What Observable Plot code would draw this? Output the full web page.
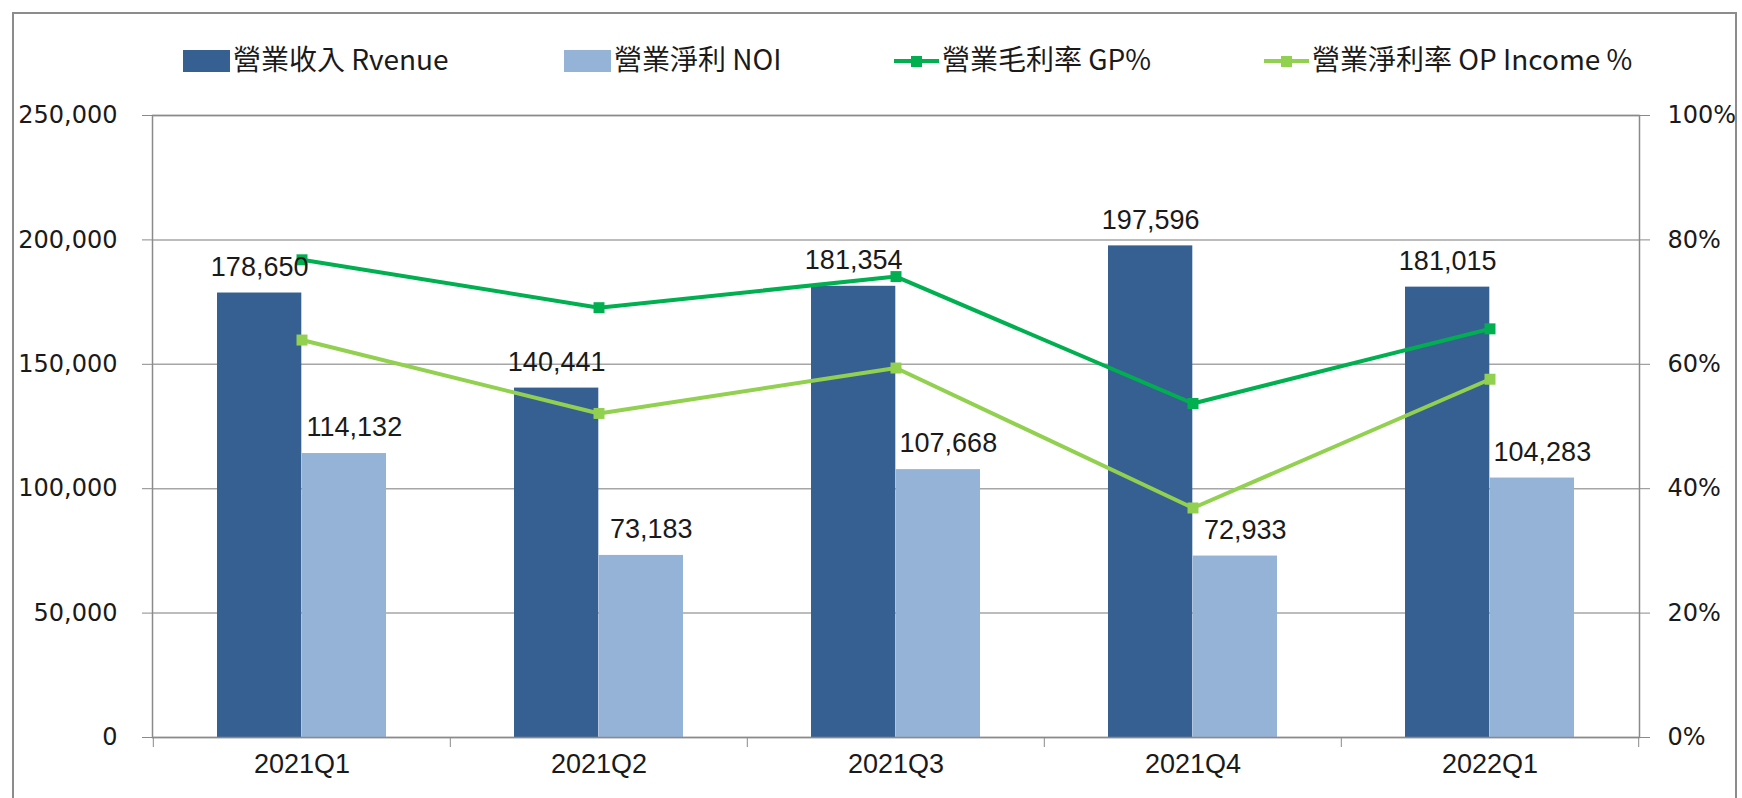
<!DOCTYPE html>
<html><head><meta charset="utf-8">
<script src="https://cdn.jsdelivr.net/npm/d3@7"></script>
<script src="https://cdn.jsdelivr.net/npm/@observablehq/plot@0.6"></script>
<style>
html,body{margin:0;padding:0;background:#fff;}
body{width:1742px;height:798px;overflow:hidden;position:relative;}
#frame{position:absolute;left:12px;top:12px;width:1725px;height:800px;border:2px solid #8c8c8c;box-sizing:border-box;}
#chart{position:absolute;left:0;top:0;}
.lg{position:absolute;top:0;left:0;font-family:"Noto Sans CJK TC","Noto Sans CJK SC",sans-serif;font-size:28px;color:#1a1a1a;line-height:1;white-space:nowrap;}
.sw{position:absolute;width:47px;height:22px;top:50px;}
.ln{position:absolute;width:45px;height:4px;top:59px;}
.mk{position:absolute;width:11px;height:11px;left:17px;top:-3.5px;}
.tx{position:absolute;top:44px;}
</style></head>
<body>
<div id="frame"></div>
<div id="chart"></div>
<div id="legend"></div>
<script>
const quarters = ["2021Q1","2021Q2","2021Q3","2021Q4","2022Q1"];
const revenue = [178650,140441,181354,197596,181015];
const noi = [114132,73183,107668,72933,104283];
const gpPct = [76.8,69.1,74.1,53.7,65.7];
const opPct = [63.9,52.1,59.4,36.9,57.6];
const leftTicks = [0,50000,100000,150000,200000,250000];
const rightTicks = [0,20,40,60,80,100];
const seriesNames = ["營業收入 Rvenue","營業淨利 NOI","營業毛利率 GP%","營業淨利率 OP Income %"];
const seriesColors = ["#376092","#95b3d7","#00b050","#92d050"];

const W = 1742, H = 798;
const mL = 152, mR = 103, mT = 115, mB = 61;
const bw = (W - mL - mR) / quarters.length;
const gap = 64, barW = (bw - 2*gap) / 2;
const k = 250000 / 100;
const fmt = d3.format(",");
const rows = quarters.map((q,i) => ({q, rev: revenue[i], noi: noi[i], gp: gpPct[i], op: opPct[i]}));

const axisGray = "#8a8a8a";
const narrow = "Liberation Sans Narrow, Liberation Sans, sans-serif";
const chart = Plot.plot({
  width: W, height: H,
  marginLeft: mL, marginRight: mR, marginTop: mT, marginBottom: mB,
  style: {fontFamily: "DejaVu Sans", background: "transparent", color: "#1a1a1a", overflow: "visible"},
  x: {type: "band", domain: quarters, padding: 0, axis: null, label: null},
  y: {domain: [0, 250000], axis: null, label: null},
  marks: [
    Plot.gridY(leftTicks, {stroke: "#a6a6a6", strokeOpacity: 1, strokeWidth: 1.5}),
    Plot.barY(rows, {x: "q", y: "rev", fill: seriesColors[0], insetLeft: gap, insetRight: bw - gap - barW}),
    Plot.barY(rows, {x: "q", y: "noi", fill: seriesColors[1], insetLeft: gap + barW, insetRight: gap}),
    Plot.frame({stroke: axisGray, strokeWidth: 1.5}),
    // left axis
    Plot.axisY(leftTicks, {anchor: "left", tickSize: 10, tickFormat: () => "", label: null, color: axisGray}),
    Plot.axisY(leftTicks, {anchor: "left", tickSize: 0, tickPadding: 35, tickFormat: fmt, label: null, fontSize: 24, color: "#1a1a1a"}),
    // right axis
    Plot.axisY(rightTicks.map(v => v * k), {anchor: "right", tickSize: 10, tickFormat: () => "", label: null, color: axisGray}),
    Plot.axisY(rightTicks.map(v => v * k), {anchor: "right", tickSize: 0, tickPadding: 28, tickFormat: d => Math.round(d / k) + "%", label: null, fontSize: 24, color: "#1a1a1a"}),
    // bottom axis: boundary ticks + centered labels
    Plot.axisX(quarters, {anchor: "bottom", tickSize: 10, tickFormat: () => "", label: null, dx: -bw / 2, color: axisGray}),
    Plot.axisX([quarters[quarters.length - 1]], {anchor: "bottom", tickSize: 10, tickFormat: () => "", label: null, dx: bw / 2, color: axisGray}),
    Plot.axisX(quarters, {anchor: "bottom", tickSize: 0, tickPadding: 16, label: null, fontSize: 27, fontFamily: narrow, color: "#1a1a1a"}),
    // lines
    Plot.line(rows, {x: "q", y: d => d.op * k, stroke: seriesColors[3], strokeWidth: 4}),
    Plot.dot(rows, {x: "q", y: d => d.op * k, symbol: "square", r: 6.2, fill: seriesColors[3], stroke: "none"}),
    Plot.line(rows, {x: "q", y: d => d.gp * k, stroke: seriesColors[2], strokeWidth: 4}),
    Plot.dot(rows, {x: "q", y: d => d.gp * k, symbol: "square", r: 6.2, fill: seriesColors[2], stroke: "none"}),
    // value labels
    Plot.text(rows, {x: "q", y: "rev", text: d => fmt(d.rev), dx: -barW / 2, dy: -26, fontSize: 27, fontFamily: narrow, fill: "#1a1a1a"}),
    Plot.text(rows, {x: "q", y: "noi", text: d => fmt(d.noi), dx: barW / 2 + 10, dy: -26, fontSize: 27, fontFamily: narrow, fill: "#1a1a1a"})
  ]
});
document.getElementById("chart").appendChild(chart);

// legend (HTML)
const legendX = [183, 564, 894, 1264];
const lg = document.getElementById("legend");
seriesNames.forEach((name, i) => {
  const item = document.createElement("div");
  item.className = "lg";
  item.style.left = legendX[i] + "px";
  if (i < 2) {
    const s = document.createElement("div");
    s.className = "sw"; s.style.left = "0px"; s.style.background = seriesColors[i];
    item.appendChild(s);
  } else {
    const l = document.createElement("div");
    l.className = "ln"; l.style.left = "0px"; l.style.background = seriesColors[i];
    const m = document.createElement("div");
    m.className = "mk"; m.style.background = seriesColors[i];
    l.appendChild(m);
    item.appendChild(l);
  }
  const t = document.createElement("div");
  t.className = "tx"; t.style.left = (i < 2 ? 50 : 48) + "px";
  t.textContent = name;
  item.appendChild(t);
  lg.appendChild(item);
});
</script>
</body></html>
